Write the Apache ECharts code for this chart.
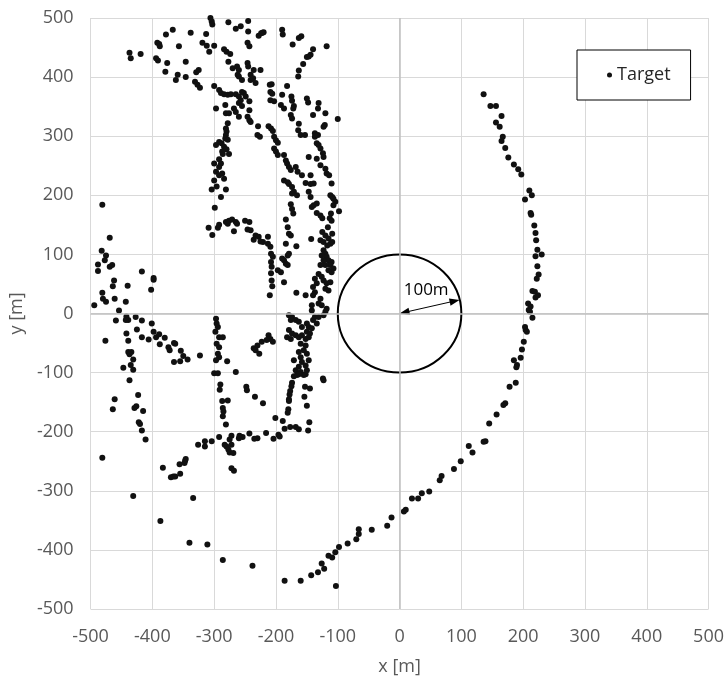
<!DOCTYPE html>
<html>
<head>
<meta charset="utf-8">
<script src="https://cdn.jsdelivr.net/npm/echarts@6/dist/echarts.min.js"></script>
<style>
html,body{margin:0;padding:0;background:#fff;}
#chart{width:727px;height:684px;}
</style>
</head>
<body>
<div id="chart"></div>
<script>
// ---- axis settings ----
const AXIS_MIN = -500, AXIS_MAX = 500, AXIS_STEP = 100;
const X_NAME = 'x [m]', Y_NAME = 'y [m]';
const SERIES_NAME = 'Target';

// ---- annotation: circle of radius 100 m with arrow ----
const RING_RADIUS = 100;
const ARROW_END = [97, 23];
const RING_LABEL = '100m';
const RING_LABEL_POS = [43, 39];

// ---- target points, grouped by region ----
const targetNorthWest = [
[-437,441],[-435,432],[-419,439],
[-378,472],[-367,480],[-338,475],[-313,473],
[-306,500],[-304,494],[-303,489],
[-277,493],[-265,482],[-257,486],[-245,495],[-245,477],[-228,470],[-224,474],
[-392,458],[-388,452],[-389,456],
[-357,452],[-319,458],[-312,453],[-300,453],[-308,443],
[-284,447],[-280,443],[-274,439],
[-394,432],[-391,428],[-376,424],[-346,426],[-277,426],
[-246,458],[-243,452],
[-246,424],[-245,418],[-270,415],[-263,418],[-260,412],
[-379,409],[-359,404],[-362,395],[-346,400],[-329,408],[-325,412],
[-331,392],[-327,387],[-323,382],
[-300,385],[-292,378],[-289,373],[-284,371],[-278,370],[-273,371],
[-262,404],[-260,401],[-255,395],
[-241,404],[-241,395],[-237,398],[-233,390],
[-236,412],[-225,412],
[-265,371],[-260,367],[-255,375],[-252,373],[-249,367],
[-297,347],[-282,353],[-281,339],[-276,339],
[-268,347],[-265,341],[-260,356],[-255,351],[-257,361],
[-243,359],[-243,344],
[-260,333],[-246,333],[-243,327],[-241,324],
[-229,317],[-230,302],[-226,299],
[-278,322],[-281,313],[-280,308],[-281,302],[-282,296],[-278,294],
[-297,285],[-292,290],[-288,288],[-284,282],[-280,278],
[-287,274],[-286,270],[-276,270],
[-300,254],[-292,261],[-289,254],[-292,248],
[-297,240],[-292,234],[-287,237],[-284,228],
[-300,225],[-304,210],[-296,215],[-281,210],[-289,197]
];

const targetNorth = [
[-220,476],[-222,475],
[-190,480],[-189,472],
[-173,455],[-163,466],[-159,469],
[-140,447],[-118,452],[-147,435],[-144,438],[-150,434],
[-156,422],[-163,411],[-164,401],
[-210,387],[-207,388],[-209,375],[-206,372],[-182,385],[-190,370],[-209,361],[-203,359],[-192,353],[-187,347],
[-175,367],[-174,360],[-171,351],[-172,347],
[-150,364],[-148,357],[-131,356],[-132,347],[-140,336],[-120,339],
[-176,336],[-174,330],[-163,321],[-121,319],[-123,316],[-100,329],
[-164,310],[-160,302],[-153,302],
[-212,317],[-208,313],[-205,309],[-203,299],
[-200,293],[-197,289],[-203,279],[-200,274],[-197,268],
[-187,268],[-184,259],[-182,254],[-179,248],[-176,243],
[-147,265],[-134,262],[-137,305],[-134,288],[-131,285],[-128,279],[-124,271],[-123,265],
[-137,299],[-132,302],
[-168,248],[-165,240],[-158,234],[-144,234],
[-128,251],[-120,245],[-118,237],[-114,234],[-110,220],
[-187,225],[-181,222],[-179,219],[-174,214],[-171,206],[-166,200],[-174,203],
[-152,221],[-144,219],[-139,220],
[-147,206],[-144,197],
[-112,200],[-109,197],[-107,194]
];

const targetWest = [
[-481,184],[-469,128],
[-482,106],[-475,98],[-477,90],[-488,83],[-488,72],[-469,79],[-465,82],
[-417,71],[-398,60],[-398,57],[-402,40],
[-462,56],[-464,46],[-481,35],[-480,25],[-475,20],[-461,25],
[-440,47],[-443,20],[-494,14],[-454,5],
[-459,-12],[-442,-5],[-439,-11],[-443,-11],[-427,-6],[-417,-12],
[-425,-27],[-417,-40],[-406,-44],[-442,-34],[-439,-46],[-476,-46],
[-401,-17],[-398,-31],[-394,-40],[-389,-35],[-388,-52],[-380,-41],[-374,-57],[-372,-62],[-365,-50],[-363,-51],
[-354,-63],[-350,-72],[-343,-78],[-355,-81],[-365,-82],
[-323,-71],
[-439,-65],[-434,-65],[-437,-69],[-431,-78],[-435,-87],[-447,-92],[-431,-95],[-437,-113],
[-309,145],[-303,133],[-294,145],[-292,150],
[-299,179],
[-281,155],[-278,152],[-276,157],[-271,159],[-265,155],[-268,139],[-263,152],
[-250,157],[-243,155],[-246,142],[-241,141],[-236,125],[-233,132],[-228,130],[-225,122],
[-297,-9],[-296,-17],[-294,-23],[-298,-31],[-292,-40],[-296,-51],[-292,-57],[-294,-68],[-292,-74],[-297,-79],[-279,-81],[-286,-40],
[-300,-101],[-294,-101],[-265,-99],
[-236,-59],[-230,-54],[-227,-68],[-223,-48],[-233,-62]
];

const targetCentre = [
[-104,189],[-107,183],[-98,173],
[-176,185],[-174,177],[-172,169],
[-142,180],[-139,183],[-134,186],[-134,170],[-128,166],[-125,161],
[-111,169],[-113,161],[-110,157],[-116,146],
[-184,159],[-181,146],[-179,135],[-176,132],
[-125,138],[-120,132],[-115,127],[-109,135],[-128,124],[-123,121],[-112,118],[-109,121],[-117,115],
[-143,126],[-167,114],[-184,118],
[-123,107],[-120,101],[-118,96],[-115,90],[-110,87],[-112,82],[-107,76],[-110,70],[-115,73],
[-126,98],[-123,90],[-120,82],[-128,82],[-131,67],[-126,62],[-123,56],[-118,51],[-120,42],[-115,39],[-112,53],
[-137,59],[-134,51],[-140,45],[-137,36],
[-152,31],[-140,31],[-167,35],
[-181,98],[-187,90],[-190,93],[-184,84],[-181,82],[-179,101],
[-197,73],[-192,70],[-187,53],
[-208,101],[-205,96],[-208,87],[-207,79],[-208,68],[-207,56],[-206,46],[-210,31],
[-209,113],[-213,118],[-221,121],[-213,130],
[-128,25],[-131,17],[-126,14],[-118,8],[-120,3],[-123,-3],[-142,14],[-142,5],
[-179,-3],[-174,-6],[-176,-11],[-168,-11],[-163,-14],[-158,-23],[-150,-17],[-147,-23],[-142,-25],[-150,-31],[-145,-34],[-140,-11],[-134,-17],[-137,-6],[-131,-6],
[-179,-28],[-174,-34],[-182,-40],[-176,-43],[-168,-37],[-163,-40],[-158,-37],[-152,-43],[-147,-40],
[-160,-51],[-152,-54],[-155,-62],[-163,-65],[-150,-68],[-160,-74],[-147,-79],[-158,-82],[-171,-79],[-152,-88],[-163,-90],[-168,-96],[-160,-99],[-150,-96],[-155,-104],[-166,-104],
[-212,-37],[-209,-43],[-215,-45],[-205,-48],
[-123,-113]
];

const targetSouth = [
[-163,-103],[-152,-103],[-171,-106],
[-124,-110],
[-174,-117],[-175,-123],[-177,-131],[-178,-137],[-179,-145],[-179,-148],[-180,-162],[-181,-168],
[-153,-124],[-145,-127],[-154,-141],[-150,-156],[-146,-184],[-148,-198],
[-201,-177],[-189,-182],[-186,-195],[-177,-192],[-168,-192],[-163,-196],[-196,-205],[-194,-208],[-204,-212],
[-216,-202],[-230,-211],[-235,-212],[-243,-203],[-254,-209],[-259,-207],[-260,-211],[-272,-207],[-275,-213],[-272,-222],[-277,-230],[-275,-235],[-269,-236],[-272,-262],[-268,-266],
[-280,-225],[-283,-222],[-292,-209],[-304,-216],[-315,-216],[-315,-225],[-326,-222],
[-290,-120],[-291,-129],[-287,-148],[-278,-147],[-286,-160],[-285,-166],[-286,-174],[-281,-188],
[-248,-124],[-247,-130],[-234,-141],[-221,-152],
[-334,-312],[-311,-391],[-286,-417],[-238,-427]
];

const targetSouthWest = [
[-461,-145],[-464,-162],[-423,-138],[-429,-160],[-426,-157],[-415,-165],
[-422,-184],[-420,-187],[-417,-198],[-411,-213],
[-481,-244],
[-431,-309],[-387,-351],[-340,-388],
[-383,-261],[-370,-277],[-366,-276],[-363,-276],[-355,-271],[-356,-255],[-348,-253],[-347,-249],[-346,-246]
];

const targetArc = [
[136,371],[147,351],[156,351],[165,334],[156,323],[162,316],
[167,299],[165,292],[171,280],[176,264],[185,252],[192,244],[197,235],
[210,208],[214,200],[203,193],
[212,170],[213,167],[218,149],[220,136],[221,124],
[223,108],[230,100],[220,97],
[223,80],[225,66],[222,59],
[215,38],[219,37],[220,27],[224,31],
[208,17],[212,12],[209,6],[211,3],[215,-7],
[203,-23],[204,-28],[206,-31],[201,-48],[198,-61],[196,-75],[185,-79],[190,-87],[189,-91],
[188,-117],[178,-124],[171,-152],[168,-155],[157,-171],[145,-186],[139,-216],[136,-217],
[112,-224],[118,-235],[99,-250],[88,-263],[68,-275],[65,-282],[48,-301],[36,-304],[30,-313],[20,-313],[10,-332],[7,-335],[-13,-345],[-20,-359],
[-45,-366],[-66,-365],[-66,-373],[-70,-382],[-84,-389],[-98,-395],[-104,-404],[-109,-413],[-115,-410],[-122,-432],[-126,-423],[-132,-438],[-143,-443],[-160,-452],[-186,-452],[-103,-461]
];

const targetPoints = [].concat(targetNorthWest, targetNorth, targetWest, targetCentre, targetSouth, targetSouthWest, targetArc);

const FONT = 'Open Sans';
const GRAY = '#595959';

const chart = echarts.init(document.getElementById('chart'), null, {renderer: 'canvas'});

function axisCommon(name, nameGap, labelMargin) {
  return {
    type: 'value',
    min: AXIS_MIN, max: AXIS_MAX, interval: AXIS_STEP,
    name: name, nameLocation: 'middle', nameGap: nameGap,
    nameTextStyle: {color: GRAY, fontSize: 18, fontFamily: FONT},
    axisLine: {show: false},
    axisTick: {show: false},
    axisLabel: {color: GRAY, fontSize: 18, fontFamily: FONT, margin: labelMargin},
    splitLine: {show: true, lineStyle: {color: '#d9d9d9', width: 1}}
  };
}

const option = {
  animation: false,
  backgroundColor: '#fff',
  grid: {left: 87, right: 18, top: 18, bottom: 75, containLabel: false},
  xAxis: axisCommon(X_NAME, 49, 19),
  yAxis: axisCommon(Y_NAME, 64, 17),
  legend: {
    data: [{name: SERIES_NAME, icon: 'circle'}],
    left: 577, top: 50,
    itemWidth: 5, itemHeight: 5, itemGap: 0,
    padding: [16, 20, 16, 30],
    borderColor: '#000', borderWidth: 1,
    backgroundColor: '#fff',
    textStyle: {color: '#262626', fontSize: 18, fontFamily: FONT}
  },
  series: [
    {
      type: 'custom',
      name: 'ring',
      coordinateSystem: 'cartesian2d',
      silent: true,
      z: 1,
      data: [[0, 0]],
      markLine: {
        silent: true,
        symbol: 'none',
        label: {show: false},
        lineStyle: {color: '#bfbfbf', width: 1.5, type: 'solid'},
        data: [{xAxis: 0}, {yAxis: 0}]
      },
      renderItem: function (params, api) {
        const c = api.coord([api.value(0), api.value(1)]);
        const sz = api.size([RING_RADIUS, RING_RADIUS]);
        const t = api.coord(ARROW_END);
        const dx = t[0] - c[0], dy = t[1] - c[1];
        const len = Math.sqrt(dx * dx + dy * dy);
        const ux = dx / len, uy = dy / len;
        const nx = -uy, ny = ux;
        const L = 10, W = 3.6;
        const headAtEnd = [
          [t[0], t[1]],
          [t[0] - ux * L + nx * W, t[1] - uy * L + ny * W],
          [t[0] - ux * L - nx * W, t[1] - uy * L - ny * W]
        ];
        const headAtStart = [
          [c[0], c[1]],
          [c[0] + ux * L + nx * W, c[1] + uy * L + ny * W],
          [c[0] + ux * L - nx * W, c[1] + uy * L - ny * W]
        ];
        const lp = api.coord(RING_LABEL_POS);
        return {
          type: 'group',
          children: [
            {type: 'ellipse', shape: {cx: c[0], cy: c[1], rx: sz[0], ry: sz[1]},
             style: {fill: 'none', stroke: '#000', lineWidth: 2}},
            {type: 'line', shape: {x1: c[0] + ux * L * 0.8, y1: c[1] + uy * L * 0.8, x2: t[0] - ux * L * 0.8, y2: t[1] - uy * L * 0.8},
             style: {stroke: '#000', lineWidth: 1}},
            {type: 'polygon', shape: {points: headAtEnd}, style: {fill: '#000'}},
            {type: 'polygon', shape: {points: headAtStart}, style: {fill: '#000'}},
            {type: 'text', x: lp[0], y: lp[1],
             style: {text: RING_LABEL, fill: '#000', font: '17px "' + FONT + '"', align: 'center', verticalAlign: 'middle'}}
          ]
        };
      }
    },
    {
      type: 'scatter',
      name: SERIES_NAME,
      z: 3,
      symbol: 'circle',
      symbolSize: 6,
      itemStyle: {color: '#111111', opacity: 1},
      data: targetPoints
    }
  ]
};

chart.setOption(option);
</script>
</body>
</html>
